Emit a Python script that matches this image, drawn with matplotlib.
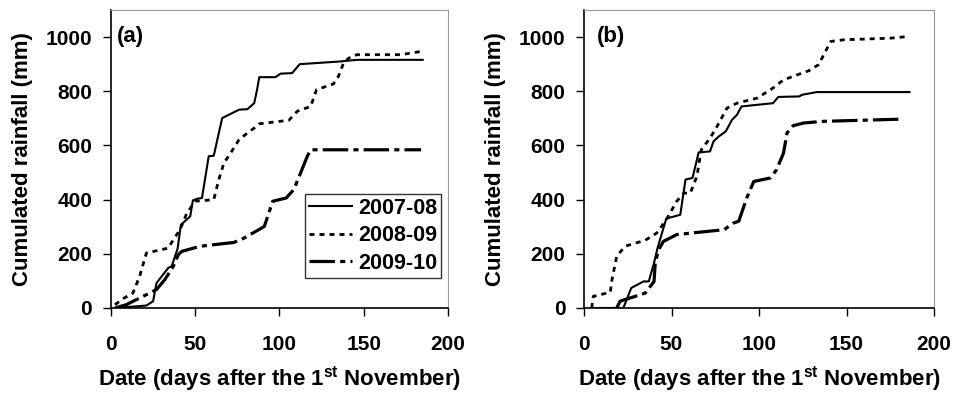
import matplotlib
matplotlib.use("Agg")
import matplotlib.pyplot as plt

plt.rcParams['font.family'] = ['Liberation Sans', 'DejaVu Sans']
plt.rcParams['font.weight'] = 'bold'
plt.rcParams['axes.labelweight'] = 'bold'
plt.rcParams['mathtext.fontset'] = 'custom'
plt.rcParams['mathtext.rm'] = 'Liberation Sans:bold'
plt.rcParams['mathtext.bf'] = 'Liberation Sans:bold'

seasons = ['2007-08', '2008-09', '2009-10']

# (a) cumulated rainfall, days after 1 November
a_days_0708 = [2.4, 21, 25, 27, 34, 36, 39.5, 41.5, 47, 48.6, 51, 54, 58, 61, 64, 66, 76, 81,
               85, 86.7, 88, 97.6, 100.6, 107.5, 112, 136, 146, 185]
a_rain_0708 = [0, 9, 25, 92, 148, 154, 218, 307, 338, 397, 403, 406, 560, 562, 646, 701, 732, 734,
               756, 806, 852, 852, 865, 867, 900, 910, 916, 916]
a_days_0809 = [2.4, 7, 13, 17, 21, 34, 37, 41, 45, 50, 61, 64, 67, 71, 76, 81, 85, 88, 105.6,
               110.5, 118.5, 122, 132, 135, 138, 141, 146, 172, 184]
a_rain_0809 = [12, 34, 55, 117, 203, 221, 252, 289, 350, 394, 400, 474, 535, 572, 621, 646, 664,
               680, 693, 726, 744, 806, 827, 855, 904, 922, 935, 935, 947]
a_days_0910 = [2.4, 9, 21, 27, 32, 37, 40, 42, 53, 73, 79, 91, 96, 104, 108.5, 112.5, 116.5,
               118.5, 184]
a_rain_0910 = [0, 12, 49, 68, 105, 154, 197, 209, 228, 242, 258, 301, 394, 406, 437, 498, 560,
               584, 584]

# (b)
b_days_0708 = [5.3, 18.7, 22.5, 27, 34, 37, 40, 42, 47, 55, 58, 62, 64.5, 65.5, 72, 74, 77, 81,
               84.6, 87.4, 90, 108, 111, 123, 124.6, 133, 186]
b_rain_0708 = [0, 0, 0, 74, 98, 98, 166, 221, 330, 344, 474, 480, 547, 574, 578, 615, 633, 652,
               695, 713, 744, 756, 779, 781, 787, 797, 797]
b_days_0809 = [4.4, 5.3, 15, 16, 18.7, 23.5, 35, 41.6, 47, 53, 57, 60.7, 64.5, 67, 72, 76, 81.7,
               87.4, 99, 108, 114, 122, 128.5, 134, 141, 148.5, 175, 185]
b_rain_0809 = [0, 43, 58, 105, 191, 228, 250, 277, 326, 394, 424, 424, 486, 584, 627, 670, 738,
               756, 775, 812, 842, 861, 876, 898, 984, 990, 996, 1002]
b_days_0910 = [18.7, 20.6, 23.5, 35, 40, 40.7, 42.6, 45.4, 53, 80, 85.5, 88.4, 93, 97, 106.5,
               110, 114, 116, 119.5, 125.6, 137, 181]
b_rain_0910 = [0, 25, 31, 55, 98, 166, 215, 246, 271, 289, 314, 320, 406, 467, 480, 510, 572,
               646, 673, 683, 689, 697]

panels = [
    ('(a)', 0.018, [(a_days_0708, a_rain_0708), (a_days_0809, a_rain_0809), (a_days_0910, a_rain_0910)]),
    ('(b)', 0.037, [(b_days_0708, b_rain_0708), (b_days_0809, b_rain_0809), (b_days_0910, b_rain_0910)]),
]
styles = [
    dict(linestyle='-', linewidth=1.5),
    dict(linestyle=(0, (1.8, 1.8)), linewidth=2.0),
    dict(linestyle=(0, (8, 1.6, 1.6, 1.6)), linewidth=2.3),
]

fig = plt.figure(figsize=(9.56, 3.95), dpi=100)
boxes = [[0.1161, 0.2203, 0.3525, 0.7544], [0.6109, 0.2203, 0.3661, 0.7544]]

for (tag, tx, series), box in zip(panels, boxes):
    ax = fig.add_axes(box)
    for (d, r), st, name in zip(series, styles, seasons):
        ax.plot(d, r, color='black', label=name, **st)
    ax.set_xlim(0, 200)
    ax.set_ylim(0, 1100)
    ax.set_xticks([0, 50, 100, 150, 200])
    ax.set_yticks([0, 200, 400, 600, 800, 1000])
    ax.tick_params(direction='out', length=5.5, width=1, labelsize=15, color='black')
    ax.tick_params(axis='y', pad=8)
    ax.tick_params(axis='x', pad=14)
    for s in ['top', 'right']:
        ax.spines[s].set_color('#999999')
    for s in ['left', 'bottom']:
        ax.spines[s].set_color('black')
        ax.spines[s].set_linewidth(1.2)
    ax.set_xlabel(r'Date (days after the 1$^{\mathbf{st}}$ November)', fontsize=16, labelpad=7)
    ax.set_ylabel('Cumulated rainfall (mm)', fontsize=16, labelpad=9)
    ax.text(tx, 0.945, tag, transform=ax.transAxes, fontsize=16, fontweight='bold',
            va='top', ha='left')
    if tag == '(a)':
        leg = ax.legend(loc='lower right', bbox_to_anchor=(0.98, 0.1), fontsize=15.5,
                        frameon=True, fancybox=False, edgecolor='black', handlelength=2.0,
                        handletextpad=0.25, borderpad=0.2, labelspacing=0.3,
                        borderaxespad=0)
        leg.get_frame().set_linewidth(1.0)

fig.savefig('out.png', dpi=100)
